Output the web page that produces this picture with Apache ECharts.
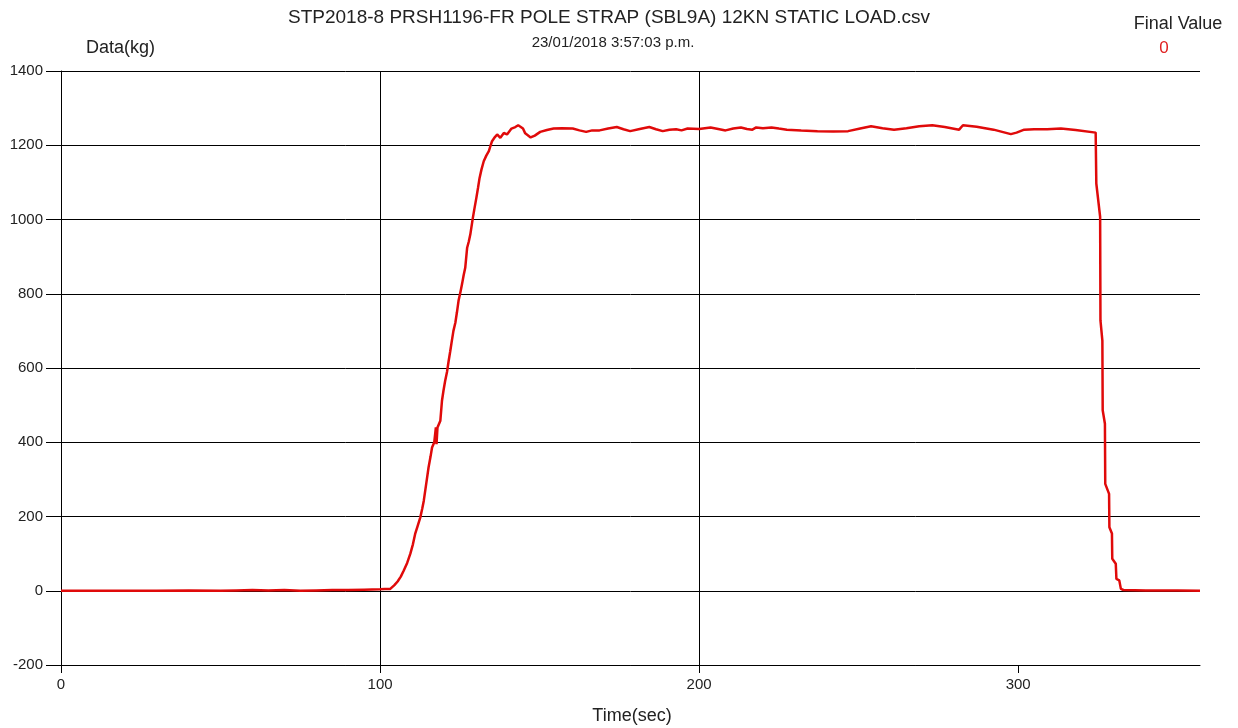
<!DOCTYPE html>
<html>
<head>
<meta charset="utf-8">
<script src="https://cdn.jsdelivr.net/npm/echarts@6/dist/echarts.min.js"></script>
<style>
  html, body { margin: 0; padding: 0; background: #fff; }
  #chart { width: 1238px; height: 728px; }
</style>
</head>
<body>
<div id="chart"></div>
<script>
// Load cell log: time in seconds, load in kg
const timeSec = [
  0, 10, 20, 30, 40, 50, 55, 60, 65, 70, 75, 80, 85, 90, 95, 100, 101.5, 103.2,
  104.5, 105.5, 106.5, 107.4, 108.5, 109.5, 110.3, 111.0, 111.8, 112.6, 113.2, 113.7,
  114.5, 115.2, 115.8, 116.3, 117.0, 117.5, 117.7, 118.0, 118.9, 119.4, 119.9, 120.4,
  121.0, 121.5, 122.0, 122.5, 123.0, 123.6, 124.1, 124.6, 125.2, 125.7, 126.2, 126.7,
  127.3, 127.8, 128.3, 129.1, 129.6, 130.2, 130.7, 131.2, 131.8, 132.5, 133.3, 134.1,
  134.6, 135.1, 136.0, 136.7, 137.7, 138.8, 139.8, 141.2, 142.4, 143.3, 144.0, 144.8,
  145.5, 147.2, 148.5, 150.2, 152.3, 154.4, 157.0, 160.4, 162.5, 164.6, 166.5, 168.8,
  171.5, 174.2, 176.3, 178.4, 181.4, 184.4, 186.5, 188.6, 190.7, 192.8, 194.5, 196.4,
  200.0, 203.6, 206.0, 208.3, 210.7, 213.1, 215.0, 216.7, 217.9, 220.0, 222.7, 225.0,
  227.5, 232.0, 237.1, 242.0, 246.7, 250.5, 253.9, 257.5, 261.1, 265.0, 269.0, 273.1,
  277.0, 281.5, 282.0, 282.7, 287.0, 292.3, 295.0, 297.7, 299.5, 301.9, 305.0, 309.1,
  313.4, 318.0, 324.3, 324.5, 325.7, 325.8, 326.4, 326.5, 327.2, 327.3, 328.5, 328.6,
  329.4, 329.5, 330.6, 330.8, 331.7, 332.2, 333.0, 340.0, 350.0, 357.0
];
const loadKg = [
  0, 0, 0, 0, 1, 0, 1, 2, 1, 2, 0, 1, 2, 2, 3, 4, 5, 5,
  15, 25, 38, 54, 75, 100, 125, 153, 175, 197, 220, 242,
  290, 332, 360, 386, 400, 440, 395, 440, 458, 511, 540, 565,
  590, 619, 645, 673, 700, 722, 750, 781, 805, 826, 850, 870,
  924, 940, 960, 1005, 1030, 1059, 1085, 1112, 1135, 1157, 1172, 1184,
  1198, 1211, 1222, 1229, 1220, 1233, 1229, 1245, 1249, 1254, 1250, 1245,
  1232, 1221, 1226, 1236, 1241, 1245, 1246, 1245, 1240, 1236, 1240, 1240,
  1245, 1249, 1243, 1238, 1244, 1249, 1243, 1238, 1242, 1243, 1240, 1245,
  1244, 1248, 1244, 1240, 1245, 1248, 1244, 1242, 1248, 1246, 1248, 1245,
  1242, 1240, 1238, 1237, 1238, 1245, 1251, 1246, 1242, 1246, 1251, 1254,
  1249, 1242, 1241, 1254, 1250, 1242, 1236, 1230, 1234, 1242, 1243, 1243,
  1245, 1241, 1234, 1097, 1007, 728, 674, 486, 450, 288, 261, 171,
  154, 86, 73, 32, 28, 5, 2, 1, 1, 0
];

const xTicks = [0, 100, 200, 300];
const yTicks = [-200, 0, 200, 400, 600, 800, 1000, 1200, 1400];

const chartTitle = 'STP2018-8 PRSH1196-FR POLE STRAP (SBL9A) 12KN STATIC LOAD.csv';
const chartDate = '23/01/2018 3:57:03 p.m.';
const yName = 'Data(kg)';
const xName = 'Time(sec)';
const finalLabel = 'Final Value';
const finalValue = loadKg[loadKg.length - 1];

const FONT = '"Liberation Sans", Arial, sans-serif';
const INK = '#222';

const points = timeSec.map((t, i) => [t, loadKg[i]]);

const chart = echarts.init(document.getElementById('chart'), null, { renderer: 'canvas' });

chart.setOption({
  backgroundColor: '#ffffff',
  animation: false,
  textStyle: { fontFamily: FONT },
  grid: { left: 61, right: 38, top: 71, bottom: 63, containLabel: false },
  graphic: [
    { type: 'text', x: 609, y: 18,
      style: { text: chartTitle, font: '19px ' + FONT, fill: INK, align: 'center', verticalAlign: 'middle' } },
    { type: 'text', x: 613, y: 43,
      style: { text: chartDate, font: '15px ' + FONT, fill: INK, align: 'center', verticalAlign: 'middle' } },
    { type: 'text', x: 86, y: 48,
      style: { text: yName, font: '18px ' + FONT, fill: INK, verticalAlign: 'middle' } },
    { type: 'text', x: 1178, y: 24,
      style: { text: finalLabel, font: '18px ' + FONT, fill: INK, align: 'center', verticalAlign: 'middle' } },
    { type: 'text', x: 1164, y: 48,
      style: { text: String(finalValue), font: '17px ' + FONT, fill: '#e02020', align: 'center', verticalAlign: 'middle' } },
    { type: 'text', x: 632, y: 716,
      style: { text: xName, font: '18px ' + FONT, fill: INK, align: 'center', verticalAlign: 'middle' } }
  ],
  xAxis: {
    type: 'value',
    min: xTicks[0],
    max: timeSec[timeSec.length - 1],
    interval: 100,
    axisLine: { show: true, onZero: false, lineStyle: { color: '#000', width: 1 } },
    axisTick: { show: true, length: 8, customValues: xTicks, lineStyle: { color: '#000' } },
    axisLabel: { customValues: xTicks, color: INK, fontSize: 15, fontFamily: FONT, margin: 12 },
    splitLine: { show: true, showMaxLine: false, lineStyle: { color: '#000', width: 1 } }
  },
  yAxis: {
    type: 'value',
    min: yTicks[0],
    max: yTicks[yTicks.length - 1],
    interval: 200,
    axisLine: { show: true, onZero: false, lineStyle: { color: '#000', width: 1 } },
    axisTick: { show: true, length: 15, lineStyle: { color: '#000' } },
    axisLabel: { color: INK, fontSize: 15, fontFamily: FONT, margin: 18, formatter: v => String(v) },
    splitLine: { show: true, lineStyle: { color: '#000', width: 1 } }
  },
  series: [{
    type: 'line',
    data: points,
    showSymbol: false,
    smooth: false,
    lineStyle: { color: '#e00a0a', width: 2.5 },
    itemStyle: { color: '#e00a0a' },
    z: 5
  }]
});
</script>
</body>
</html>
